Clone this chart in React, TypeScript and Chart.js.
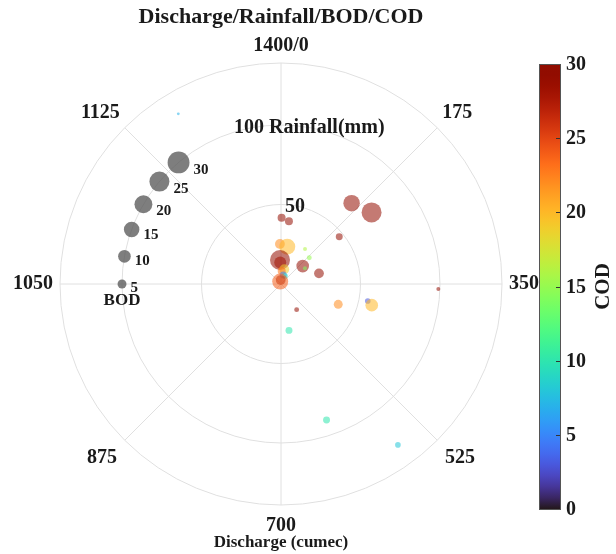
import React, { useEffect, useRef } from "react";
import { Chart, registerables } from "chart.js";
Chart.register(...registerables);

// ---- data ----
const discharge = [160, 201, 198, 2, 28, 1394, 37, 134, 183, 1391, 1392, 196, 221, 289, 49, 12, 56, 103, 1383, 1330, 426, 393, 401, 578, 662, 357, 628, 560, 1279];
const rainfall = [67.5, 72.6, 47.2, 41.7, 39.8, 25.2, 23.8, 26.7, 24.3, 15.1, 13.5, 17.7, 18, 24.8, 9.5, 8.2, 5.8, 5.6, 2.5, 1.6, 38.2, 55.6, 58.6, 18.9, 29.6, 99, 90.2, 125.1, 125];
const bod = [17, 25, 3, 4, 4, 6, 16, 1, 1.5, 25, 9, 10, 1, 6, 6, 4, 3, 2, 6, 16, 5, 2, 10, 1.5, 3, 1, 3, 2, 0.5];
const cod = [29, 29, 29, 29, 29, 22, 20, 16, 15, 29, 28, 29, 14, 29, 19, 23, 5, 9, 28, 24, 22, 3, 20, 29, 10, 29, 10, 8, 7];

const legendBod = [5, 10, 15, 20, 25, 30];
const legendDischarge = [1050, 1089, 1128, 1167, 1206, 1244];
const legendRainfall = 100;

const thetaTicks = [0, 175, 350, 525, 700, 875, 1050, 1225];
const thetaTickLabels = ["1400/0", "175", "350", "525", "700", "875", "1050", "1125"];
const rTicks = [50, 100];
const rTickLabels = ["50", "100 Rainfall(mm)"];
const rMax = 139;
const dMax = 1400;
const codMin = 0;
const codMax = 30;
const codTicks = [0, 5, 10, 15, 20, 25, 30];

const TITLE = "Discharge/Rainfall/BOD/COD";
const XLABEL = "Discharge (cumec)";
const CLABEL = "COD";
const FONT = '"Liberation Serif", "Times New Roman", serif';

function turbo(t: number): [number, number, number] {
  const x = Math.max(0, Math.min(1, t));
  const r = 0.13572138 + x * (4.6153926 + x * (-42.66032258 + x * (132.13108234 + x * (-152.94239396 + x * 59.28637943))));
  const g = 0.09140261 + x * (2.19418839 + x * (4.84296658 + x * (-14.18503333 + x * (4.27729857 + x * 2.82956604))));
  const b = 0.1066733 + x * (12.64194608 + x * (-60.58204836 + x * (110.36276771 + x * (-89.90310912 + x * 27.34824973))));
  const c = (v: number) => Math.round(Math.max(0, Math.min(1, v)) * 255);
  return [c(r), c(g), c(b)];
}

function toXY(d: number, r: number) {
  const th = (d / dMax) * Math.PI * 2;
  return { x: r * Math.sin(th), y: r * Math.cos(th) };
}

const bubbleR = (v: number) => 2 * Math.sqrt(v);

export default function App() {
  const ref = useRef<HTMLCanvasElement | null>(null);
  useEffect(() => {
    document.body.style.margin = "0";
    const canvas = ref.current!;
    const points = discharge.map((d, i) => ({ ...toXY(d, rainfall[i]), r: bubbleR(bod[i]) }));
    const colors = cod.map((c) => {
      const [r, g, b] = turbo((c - codMin) / (codMax - codMin));
      return `rgba(${r},${g},${b},0.55)`;
    });
    const legendPts = legendBod.map((b, i) => ({ ...toXY(legendDischarge[i], legendRainfall), r: bubbleR(b) }));

    const polarPlugin = {
      id: "polarDecor",
      beforeDatasetsDraw(chart: any) {
        const ctx = chart.ctx;
        const xs = chart.scales.x, ys = chart.scales.y;
        const cx = xs.getPixelForValue(0), cy = ys.getPixelForValue(0);
        const k = xs.getPixelForValue(1) - cx;
        ctx.save();
        ctx.strokeStyle = "#e0e0e0";
        ctx.lineWidth = 1;
        [...rTicks, rMax].forEach((r) => {
          ctx.beginPath();
          ctx.arc(cx, cy, r * k, 0, Math.PI * 2);
          ctx.stroke();
        });
        thetaTicks.forEach((d) => {
          const p = toXY(d, rMax);
          ctx.beginPath();
          ctx.moveTo(cx, cy);
          ctx.lineTo(xs.getPixelForValue(p.x), ys.getPixelForValue(p.y));
          ctx.stroke();
        });
        ctx.restore();
      },
      afterDraw(chart: any) {
        const ctx = chart.ctx;
        const xs = chart.scales.x, ys = chart.scales.y;
        const cx = xs.getPixelForValue(0), cy = ys.getPixelForValue(0);
        const k = xs.getPixelForValue(1) - cx;
        ctx.save();
        ctx.fillStyle = "#1a1a1a";
        // title
        ctx.font = `bold 22px ${FONT}`;
        ctx.textAlign = "center";
        ctx.textBaseline = "middle";
        ctx.fillText(TITLE, cx, 17);
        // theta tick labels
        ctx.font = `bold 20px ${FONT}`;
        thetaTicks.forEach((d, i) => {
          const th = (d / dMax) * Math.PI * 2;
          const s = Math.sin(th), c = Math.cos(th);
          const lr = rMax * k + (c < -0.01 ? 11 : 7);
          const px = cx + lr * s, py = cy - lr * c;
          ctx.textAlign = s > 0.01 ? "left" : s < -0.01 ? "right" : "center";
          ctx.textBaseline = c > 0.01 ? "bottom" : c < -0.01 ? "top" : "middle";
          ctx.fillText(thetaTickLabels[i], px, py);
        });
        // r tick labels
        ctx.textBaseline = "middle";
        ctx.textAlign = "left";
        ctx.fillText(rTickLabels[0], cx + 4, cy - rTicks[0] * k + 2);
        ctx.fillText(rTickLabels[1], cx - 47, cy - rTicks[1] * k + 3);
        // x label
        ctx.font = `bold 17px ${FONT}`;
        ctx.textAlign = "center";
        ctx.fillText(XLABEL, cx, 543);
        // BOD legend labels
        ctx.font = `bold 15px ${FONT}`;
        ctx.textAlign = "left";
        legendBod.forEach((b, i) => {
          const p = toXY(legendDischarge[i], legendRainfall);
          const px = xs.getPixelForValue(p.x), py = ys.getPixelForValue(p.y);
          ctx.fillText(String(b), px + bubbleR(b) + 4, py + 4 + i * 0.8);
        });
        ctx.font = `bold 17px ${FONT}`;
        ctx.textAlign = "center";
        const p0 = toXY(legendDischarge[0], legendRainfall);
        ctx.fillText("BOD", xs.getPixelForValue(p0.x), ys.getPixelForValue(p0.y) + 17);
        // colorbar
        const bx = 539, bw = 21, by0 = 64, by1 = 509;
        const grad = ctx.createLinearGradient(0, by1, 0, by0);
        for (let i = 0; i <= 40; i++) {
          const [r, g, b] = turbo(i / 40);
          grad.addColorStop(i / 40, `rgb(${r},${g},${b})`);
        }
        ctx.fillStyle = grad;
        ctx.fillRect(bx, by0, bw, by1 - by0);
        ctx.strokeStyle = "#555";
        ctx.lineWidth = 1;
        ctx.strokeRect(bx + 0.5, by0 + 0.5, bw, by1 - by0);
        const cy2 = (v: number) => by1 - ((v - codMin) / (codMax - codMin)) * (by1 - by0);
        ctx.strokeStyle = "#333";
        ctx.fillStyle = "#1a1a1a";
        ctx.font = `bold 20px ${FONT}`;
        ctx.textAlign = "left";
        ctx.textBaseline = "middle";
        codTicks.forEach((v) => {
          const y = Math.round(cy2(v)) + 0.5;
          if (v !== codMin && v !== codMax) {
            ctx.beginPath();
            ctx.moveTo(bx + bw - 4, y);
            ctx.lineTo(bx + bw, y);
            ctx.stroke();
          }
          ctx.fillText(String(v), bx + bw + 6, y);
        });
        ctx.save();
        ctx.translate(604, (by0 + by1) / 2);
        ctx.rotate(-Math.PI / 2);
        ctx.textAlign = "center";
        ctx.textBaseline = "middle";
        ctx.font = `bold 21px ${FONT}`;
        ctx.fillText(CLABEL, 0, 0);
        ctx.restore();
        ctx.restore();
      },
    };

    const chart = new Chart(canvas, {
      type: "bubble",
      data: {
        datasets: [
          { data: points as any, backgroundColor: colors, borderWidth: 0 },
          { data: legendPts as any, backgroundColor: "rgba(90,90,90,0.78)", borderWidth: 0 },
        ],
      },
      options: {
        responsive: false,
        animation: false,
        layout: { padding: { left: 60, right: 114, top: 63, bottom: 49 } },
        scales: {
          x: { type: "linear", min: -rMax, max: rMax, display: false },
          y: { type: "linear", min: -rMax, max: rMax, display: false },
        },
        plugins: { legend: { display: false }, tooltip: { enabled: false } },
      },
      plugins: [polarPlugin],
    });
    return () => chart.destroy();
  }, []);
  return (
    <div style={{ width: 616, height: 554, background: "#fff" }}>
      <canvas ref={ref} width={616} height={554} style={{ display: "block" }} />
    </div>
  );
}
